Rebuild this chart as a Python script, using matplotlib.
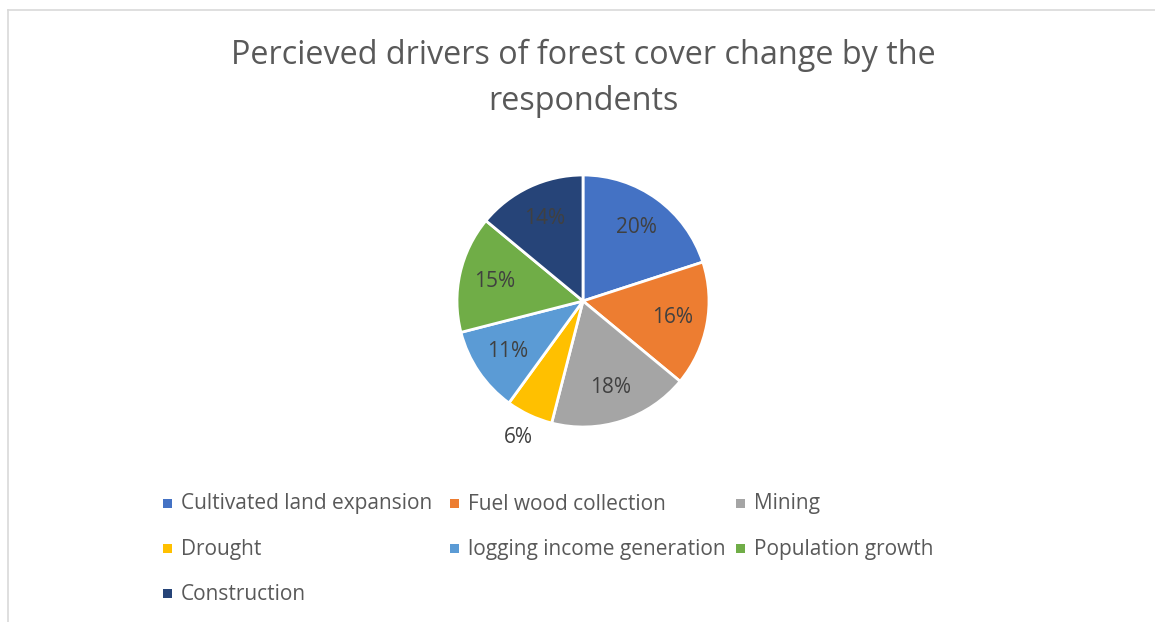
import matplotlib.pyplot as plt
from matplotlib.patches import Rectangle

plt.rcParams['font.family'] = ['Open Sans', 'DejaVu Sans']

# perceived drivers (share of respondents, %)
drivers = ['Cultivated land expansion', 'Fuel wood collection', 'Mining',
           'Drought', 'logging income generation', 'Population growth',
           'Construction']
shares = [20, 16, 18, 6, 11, 15, 14]
colors = ['#4472C4', '#ED7D31', '#A5A5A5', '#FFC000', '#5B9BD5', '#70AD47', '#264478']

W, H = 1155, 622
fig = plt.figure(figsize=(W / 100, H / 100), dpi=100)

# light chart border (top and left visible)
fig.add_artist(plt.Line2D([8 / W, 1], [1 - 9.5 / H, 1 - 9.5 / H], color='#D9D9D9', lw=1.2))
fig.add_artist(plt.Line2D([8 / W, 8 / W], [0, 1 - 9.5 / H], color='#D9D9D9', lw=1.2))

fig.text(583 / W, 1 - 55 / H, 'Percieved drivers of forest cover change by the',
         ha='center', va='center', fontsize=23.3, color='#595959')
fig.text(583 / W, 1 - 102 / H, 'respondents',
         ha='center', va='center', fontsize=23.3, color='#595959')

cx, cy, r = 583, 301, 126
ax = fig.add_axes([(cx - r) / W, 1 - (cy + r) / H, 2 * r / W, 2 * r / H])
wedges, texts, autotexts = ax.pie(
    shares, colors=colors, startangle=90, counterclock=False,
    autopct='%1.0f%%', pctdistance=0.72,
    wedgeprops=dict(edgecolor='white', linewidth=2),
    textprops=dict(fontsize=15, color='#404040'))
ax.set_xlim(-1, 1)
ax.set_ylim(-1, 1)
ax.set_aspect('equal')
ax.axis('off')

# small slice label sits outside the pie
t = autotexts[drivers.index('Drought')]
x, y = t.get_position()
t.set_position((x * 1.2 / 0.72, y * 1.2 / 0.72))
t.set_clip_on(False)

# legend laid out as in the original (3 columns)
col_x = [163, 450, 736]
row_y = [503, 548, 593]
for i, (name, c) in enumerate(zip(drivers, colors)):
    px, py = col_x[i % 3], row_y[i // 3]
    fig.add_artist(Rectangle((px / W, 1 - (py + 4.5) / H), 9 / W, 9 / H,
                             transform=fig.transFigure, facecolor=c, edgecolor='none'))
    fig.text((px + 18) / W, 1 - (py + 1) / H, name, ha='left', va='center',
             fontsize=15, color='#595959')

fig.savefig('out.png', dpi=100)
